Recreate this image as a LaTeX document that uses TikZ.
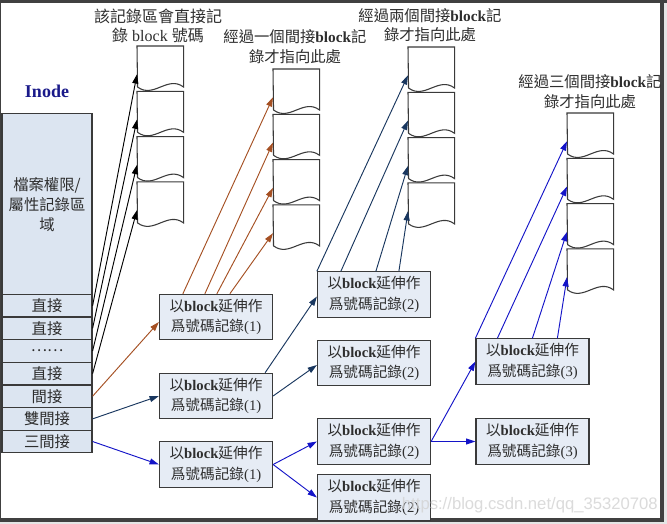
\documentclass[tikz,border=0pt]{standalone}
\usepackage{fontspec}
\setmainfont{Liberation Serif}
\newfontfamily\cjk{Noto Sans CJK TC}
\newfontfamily\wmfont{Liberation Sans}
\usetikzlibrary{arrows.meta,calc}
\newcommand\zh[1]{{\cjk #1}}
\definecolor{bord}{HTML}{3A3A3A}
\definecolor{framec}{HTML}{404040}
\definecolor{attrfill}{HTML}{DCE5F1}
\definecolor{idxfill}{HTML}{E6ECF5}
\definecolor{txt}{HTML}{2E2E2E}
\definecolor{inodeblue}{HTML}{1A1A8A}
\definecolor{brownc}{RGB}{165,80,35}
\definecolor{navyc}{RGB}{25,55,95}
\definecolor{bluec}{RGB}{20,20,200}
\begin{document}
\begin{tikzpicture}[x=0.75pt,y=-0.75pt,
  row/.style={draw=bord, fill=attrfill, line width=0.9pt, minimum width=67.5pt,
    minimum height=17pt, inner sep=0pt, text=txt, font=\fontsize{11.5}{14}\selectfont},
  attrbox/.style={draw=bord, fill=attrfill, line width=0.9pt, minimum width=67.5pt,
    minimum height=135.75pt, inner sep=0pt, align=center, text=txt,
    font=\fontsize{11.5}{15}\selectfont},
  idx/.style={draw=bord, fill=idxfill, line width=0.9pt, minimum width=84.75pt,
    minimum height=34pt, inner sep=0pt, align=center, text=txt,
    font=\fontsize{11}{15.5}\selectfont},
  blk/.style={minimum width=34.5pt, minimum height=42pt, inner sep=0pt, anchor=north west},
  docshape/.style={draw=bord, fill=white, line width=0.8pt},
  ttl/.style={align=center, text=txt, inner sep=0pt, font=\fontsize{11.5}{14.5}\selectfont},
  arr/.style={-{Triangle[length=7pt,width=4.5pt]}, line width=0.7pt},
]
\useasboundingbox (0,0) rectangle (667,524);
% frame
\fill[white!90!black] (0,0) rectangle (667,524);
\fill[white] (0,0) rectangle (661,519);
\fill[framec] (0,0) rectangle (667,3);
\fill[framec] (659.5,0) rectangle (663.5,522);
\fill[framec] (0,518) rectangle (663.5,522);
\fill[framec] (0,0) rectangle (1.2,522);

% titles
\node[ttl, font=\fontsize{12}{14}\selectfont] (t1) at (158,26)
  {\zh{該記錄區會直接記}\\\zh{錄} block \zh{號碼}};
\node[ttl] (t2) at (295,46.5) {\zh{經過一個間接}\textbf{block}\zh{記}\\\zh{錄才指向此處}};
\node[ttl] (t3) at (430,25) {\zh{經過兩個間接}\textbf{block}\zh{記}\\\zh{錄才指向此處}};
\node[ttl] (t4) at (590,91.5) {\zh{經過三個間接}\textbf{block}\zh{記}\\\zh{錄才指向此處}};

% inode
\node[text=inodeblue, font=\bfseries\fontsize{13.5}{16}\selectfont, inner sep=0pt] (inode) at (47,91) {Inode};
\node[attrbox] (attr) at (47,204.3) {\zh{檔案權限/}\\\zh{屬性記錄區}\\\zh{域}};
\foreach \i/\t in {1/直接,2/直接,3/……,4/直接,5/間接,6/雙間接,7/三間接}
  \node[row] (r\i) at (47,{294.4+22.63*\i-11.3}) {\zh{\t}};

% data blocks
\foreach \c/\x/\y in {1/137/46, 2/273/69, 3/408/47, 4/567/113}{
  \foreach \i/\l in {0/a,1/b,2/c,3/d}{
    \node[blk] (c\c\l) at (\x,{\y+45.3*\i}) {};
  }
}
\foreach \c in {1,2,3,4}{
  \foreach \l in {a,b,c,d}{
    \draw[docshape] (c\c\l.north west) -- (c\c\l.north east) -- ++(0,41)
      .. controls +(-16,-12) and +(16,12) .. ++(-46,0) -- cycle;
  }
}

% index boxes
\node[idx] (A1) at (216,317) {\zh{以}\textbf{block}\zh{延伸作}\\\zh{爲號碼記錄}(1)};
\node[idx] (A2) at (216,396) {\zh{以}\textbf{block}\zh{延伸作}\\\zh{爲號碼記錄}(1)};
\node[idx] (A3) at (216,464.5) {\zh{以}\textbf{block}\zh{延伸作}\\\zh{爲號碼記錄}(1)};
\node[idx] (B1) at (374,294.5) {\zh{以}\textbf{block}\zh{延伸作}\\\zh{爲號碼記錄}(2)};
\node[idx] (B2) at (374,363) {\zh{以}\textbf{block}\zh{延伸作}\\\zh{爲號碼記錄}(2)};
\node[idx] (B3) at (374,441.5) {\zh{以}\textbf{block}\zh{延伸作}\\\zh{爲號碼記錄}(2)};
\node[idx] (B4) at (374,497.5) {\zh{以}\textbf{block}\zh{延伸作}\\\zh{爲號碼記錄}(2)};
\node[idx] (C1) at (532.5,361.5) {\zh{以}\textbf{block}\zh{延伸作}\\\zh{爲號碼記錄}(3)};
\node[idx] (C2) at (532.5,441.5) {\zh{以}\textbf{block}\zh{延伸作}\\\zh{爲號碼記錄}(3)};

% direct (black)
\draw[arr, black] (r1.east) -- (c1a.west);
\draw[arr, black] (r2.east) -- (c1b.west);
\draw[arr, black] (r3.east) -- (c1c.west);
\draw[arr, black] (r4.east) -- (c1d.west);

% single indirect (brown)
\draw[arr, brownc] (r5.east) -- ($(A1.west)+(0,5)$);
\draw[arr, brownc] ($(A1.north west)+(24,0)$) -- (c2a.west);
\draw[arr, brownc] ($(A1.north west)+(46,0)$) -- (c2b.west);
\draw[arr, brownc] ($(A1.north west)+(58,0)$) -- (c2c.west);
\draw[arr, brownc] ($(A1.north west)+(71,0)$) -- (c2d.west);

% double indirect (navy)
\draw[arr, navyc] (r6.east) -- (A2.west);
\draw[arr, navyc] ($(A2.north east)+(-8,0)$) -- ($(B1.west)+(0,2)$);
\draw[arr, navyc] (A2.east) -- ($(B2.west)+(0,2)$);
\draw[arr, navyc] (B1.north west) -- (c3a.west);
\draw[arr, navyc] ($(B1.north west)+(24,0)$) -- (c3b.west);
\draw[arr, navyc] ($(B1.north west)+(59,0)$) -- (c3c.west);
\draw[arr, navyc] ($(B1.north west)+(82,0)$) -- (c3d.west);

% triple indirect (blue)
\draw[arr, bluec] (r7.east) -- (A3.west);
\draw[arr, bluec] (A3.east) -- (B3.west);
\draw[arr, bluec] (A3.east) -- (B4.west);
\draw[arr, bluec] (B3.east) -- (C1.west);
\draw[arr, bluec] (B3.east) -- (C2.west);
\draw[arr, bluec] (C1.north west) -- (c4a.west);
\draw[arr, bluec] ($(C1.north west)+(22,0)$) -- (c4b.west);
\draw[arr, bluec] ($(C1.north west)+(57,0)$) -- (c4c.west);
\draw[arr, bluec] ($(C1.north west)+(82,0)$) -- (c4d.west);

% watermark overlay (faint)
\node[text=gray!35, opacity=0.8, font=\wmfont\fontsize{12.5}{14}\selectfont, anchor=east, inner sep=0pt]
  (wm) at (658,505) {https://blog.csdn.net/qq\_35320708};
\end{tikzpicture}
\end{document}
